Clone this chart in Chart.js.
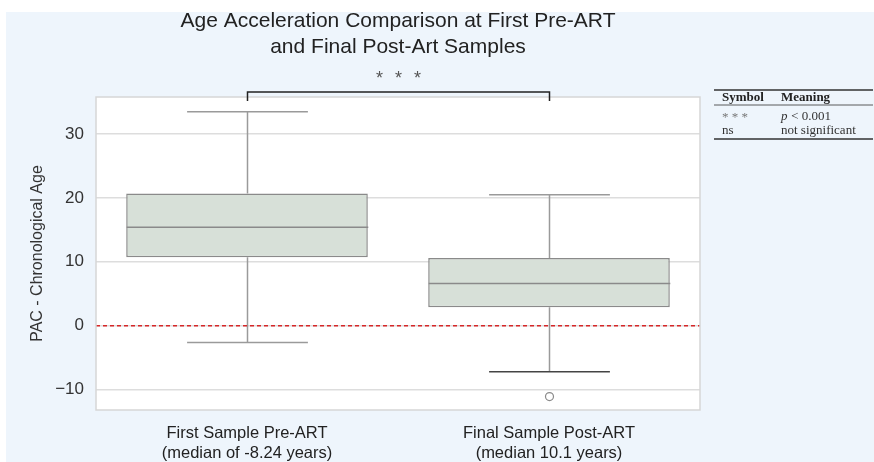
<!DOCTYPE html>
<html lang="en">

<head>
    <meta charset="UTF-8">
    <title>Age Acceleration Comparison</title>
    <script src="https://cdn.jsdelivr.net/npm/chart.js"></script>
    <style>
        body { margin: 0; background: #ffffff; }
        .wrap { width: 874px; height: 462px; position: relative; }
    </style>
</head>

<body>
    <div class="wrap">
        <canvas id="graficoBox" width="874" height="462"></canvas>
    </div>
</body>

</html>
<script>
    // dados
    var categorias = [
        ['First Sample Pre-ART', '(median of -8.24 years)'],
        ['Final Sample Post-ART', '(median 10.1 years)']
    ];
    var q1 = [10.7, 2.9];
    var mediana = [15.4, 6.6];
    var q3 = [20.7, 10.6];
    var bigodeMin = [-2.65, -7.2];
    var bigodeMax = [33.5, 20.5];
    var outliers = [[], [-11.1]];
    var yTicks = [-10, 0, 10, 20, 30];
    var titulo = ['Age Acceleration Comparison at First Pre-ART', 'and Final Post-Art Samples'];

    var corFundo = '#eef5fc';
    var fonte = '"Liberation Sans", Arial, sans-serif';

    var boxPlugin = {
        id: 'boxPlugin',
        beforeDraw: function (chart) {
            var ctx = chart.ctx;
            var a = chart.chartArea;
            ctx.save();
            ctx.fillStyle = corFundo;
            ctx.fillRect(6, 12, chart.width - 6, chart.height - 12);
            ctx.fillStyle = '#ffffff';
            ctx.fillRect(a.left, a.top, a.right - a.left, a.bottom - a.top);
            ctx.restore();
        },
        afterDatasetsDraw: function (chart) {
            var ctx = chart.ctx;
            var x = chart.scales.x;
            var y = chart.scales.y;
            var a = chart.chartArea;
            var largura = x.getPixelForValue(1) - x.getPixelForValue(0);
            var cap = largura * 0.2;
            ctx.save();
            for (var i = 0; i < categorias.length; i++) {
                var cx = Math.round(x.getPixelForValue(i)) + 0.5;
                var half = largura * 0.4;
                // mediana
                ctx.strokeStyle = '#8a8a8a';
                ctx.lineWidth = 1.5;
                ctx.beginPath();
                ctx.moveTo(cx - half, y.getPixelForValue(mediana[i]));
                ctx.lineTo(cx + half, y.getPixelForValue(mediana[i]));
                ctx.stroke();
                // bigodes
                ctx.strokeStyle = '#9a9a9a';
                ctx.beginPath();
                ctx.moveTo(cx, y.getPixelForValue(q3[i]));
                ctx.lineTo(cx, y.getPixelForValue(bigodeMax[i]));
                ctx.moveTo(cx, y.getPixelForValue(q1[i]));
                ctx.lineTo(cx, y.getPixelForValue(bigodeMin[i]));
                ctx.moveTo(cx - cap, y.getPixelForValue(bigodeMax[i]));
                ctx.lineTo(cx + cap, y.getPixelForValue(bigodeMax[i]));
                ctx.stroke();
                ctx.strokeStyle = i == 1 ? '#444444' : '#9a9a9a';
                ctx.beginPath();
                ctx.moveTo(cx - cap, y.getPixelForValue(bigodeMin[i]));
                ctx.lineTo(cx + cap, y.getPixelForValue(bigodeMin[i]));
                ctx.stroke();
                // outliers
                outliers[i].forEach(function (v) {
                    ctx.beginPath();
                    ctx.arc(cx, y.getPixelForValue(v), 4, 0, Math.PI * 2);
                    ctx.fillStyle = '#ffffff';
                    ctx.fill();
                    ctx.strokeStyle = '#8a8a8a';
                    ctx.lineWidth = 1.2;
                    ctx.stroke();
                });
            }
            // linha zero
            ctx.strokeStyle = '#d62728';
            ctx.lineWidth = 1.5;
            ctx.setLineDash([4, 3]);
            ctx.beginPath();
            ctx.moveTo(a.left, y.getPixelForValue(0));
            ctx.lineTo(a.right, y.getPixelForValue(0));
            ctx.stroke();
            ctx.setLineDash([]);
            // moldura
            ctx.strokeStyle = '#d6d6d6';
            ctx.lineWidth = 1.5;
            ctx.strokeRect(a.left, a.top, a.right - a.left, a.bottom - a.top);

            // titulo centrado na area do grafico
            var meio = (a.left + a.right) / 2;
            ctx.fillStyle = '#222222';
            ctx.font = '21px ' + fonte;
            ctx.textAlign = 'center';
            ctx.textBaseline = 'middle';
            ctx.fillText(titulo[0], meio, 21);
            ctx.fillText(titulo[1], meio, 47);

            // colchete de significancia
            var x1 = Math.round(x.getPixelForValue(0)) + 0.5;
            var x2 = Math.round(x.getPixelForValue(1)) + 0.5;
            var topo = a.top - 5;
            ctx.strokeStyle = '#222222';
            ctx.lineWidth = 1.5;
            ctx.beginPath();
            ctx.moveTo(x1, a.top + 4);
            ctx.lineTo(x1, topo);
            ctx.lineTo(x2, topo);
            ctx.lineTo(x2, a.top + 4);
            ctx.stroke();
            ctx.fillStyle = '#555555';
            ctx.font = '18px ' + fonte;
            var xm = (x1 + x2) / 2;
            [-19, 0, 19].forEach(function (d) {
                ctx.fillText('*', xm + d, a.top - 18);
            });

            // tabela de legenda
            var tx = a.right + 14;
            var tw = 159;
            ctx.strokeStyle = '#333333';
            ctx.lineWidth = 1.5;
            ctx.beginPath();
            ctx.moveTo(tx, a.top - 7); ctx.lineTo(tx + tw, a.top - 7);
            ctx.moveTo(tx, a.top + 42); ctx.lineTo(tx + tw, a.top + 42);
            ctx.stroke();
            ctx.lineWidth = 0.8;
            ctx.beginPath();
            ctx.moveTo(tx, a.top + 8); ctx.lineTo(tx + tw, a.top + 8);
            ctx.stroke();
            ctx.textAlign = 'left';
            ctx.fillStyle = '#222222';
            ctx.font = 'bold 13px "Liberation Serif", serif';
            ctx.fillText('Symbol', tx + 8, a.top + 1);
            ctx.fillText('Meaning', tx + 67, a.top + 1);
            ctx.font = '13px "Liberation Serif", serif';
            ctx.fillStyle = '#777777';
            ctx.fillText('* * *', tx + 8, a.top + 21);
            ctx.fillStyle = '#333333';
            ctx.fillText('ns', tx + 8, a.top + 34);
            ctx.font = 'italic 13px "Liberation Serif", serif';
            ctx.fillText('p', tx + 67, a.top + 20);
            ctx.font = '13px "Liberation Serif", serif';
            ctx.fillText(' < 0.001', tx + 74, a.top + 20);
            ctx.fillText('not significant', tx + 67, a.top + 34);
            ctx.restore();
        }
    };

    new Chart(document.getElementById('graficoBox'), {
        type: 'bar',
        data: {
            labels: categorias,
            datasets: [{
                label: 'IQR',
                data: q1.map(function (v, i) { return [v, q3[i]]; }),
                backgroundColor: '#d7e0d8',
                borderColor: '#8a8a8a',
                borderWidth: 1.5,
                borderSkipped: false,
                barPercentage: 0.8,
                categoryPercentage: 1.0
            }]
        },
        plugins: [boxPlugin],
        options: {
            responsive: false,
            animation: false,
            layout: {
                padding: { left: 6, right: 174, top: 97, bottom: 0 }
            },
            scales: {
                y: {
                    min: -13.2,
                    max: 35.8,
                    afterFit: function (s) { s.width = 90; },
                    afterBuildTicks: function (s) {
                        s.ticks = yTicks.map(function (v) { return { value: v }; });
                    },
                    ticks: {
                        color: '#333333',
                        padding: 12,
                        font: { size: 17, family: fonte },
                        callback: function (v) { return String(v).replace('-', '\u2212'); }
                    },
                    grid: { color: '#dddddd', lineWidth: 1.5, drawTicks: false },
                    border: { display: false },
                    title: {
                        display: true,
                        text: 'PAC - Chronological Age',
                        color: '#333333',
                        font: { size: 16, family: fonte },
                        padding: { top: 22, bottom: 0 }
                    }
                },
                x: {
                    afterFit: function (s) { s.height = 52; },
                    ticks: {
                        color: '#222222',
                        padding: 14,
                        font: { size: 16.5, family: fonte, lineHeight: 1.2 }
                    },
                    grid: { display: false, drawTicks: false },
                    border: { display: false }
                }
            },
            plugins: {
                legend: { display: false },
                tooltip: { enabled: false },
                title: { display: false }
            }
        }
    });
</script>
